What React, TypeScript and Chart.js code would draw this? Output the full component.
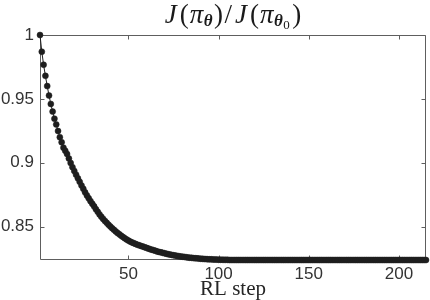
import { useEffect, useRef } from "react";
import { Chart, registerables } from "chart.js";

Chart.register(...registerables);

// Ratio J(pi_theta)/J(pi_theta0) for RL steps 1..215
const ratioValues: number[] = [
  1.0, 0.9869, 0.9767, 0.968, 0.96, 0.9526, 0.946, 0.94, 0.9345, 0.93,
  0.9248, 0.92, 0.916, 0.9118, 0.9093, 0.9068, 0.9033, 0.8998, 0.8965, 0.8935,
  0.8906, 0.8878, 0.885, 0.8822, 0.8795, 0.8768, 0.8744, 0.8721, 0.8699, 0.8678,
  0.8658, 0.8636, 0.8615, 0.8595, 0.8577, 0.856, 0.8544, 0.8529, 0.8514, 0.85,
  0.8487, 0.8474, 0.8462, 0.845, 0.8439, 0.8428, 0.8418, 0.8408, 0.8399, 0.839,
  0.8382, 0.8376, 0.837, 0.8364, 0.8358, 0.8353, 0.8348, 0.8343, 0.8338, 0.8333,
  0.8328, 0.8323, 0.8319, 0.8314, 0.831, 0.8305, 0.8301, 0.8298, 0.8294, 0.8291,
  0.8287, 0.8284, 0.8281, 0.8278, 0.8275, 0.8273, 0.827, 0.8268, 0.8265, 0.8264,
  0.8262, 0.826, 0.8258, 0.8256, 0.8255, 0.8253, 0.8252, 0.8251, 0.8249, 0.8248,
  0.8247, 0.8246, 0.8245, 0.8244, 0.8243, 0.8243, 0.8242, 0.8241, 0.8241, 0.824,
  0.824, 0.824, 0.8239, 0.8239, 0.8239, 0.8238, 0.8238, 0.8238, 0.8238, 0.8238,
  0.8238, 0.8238, 0.8238, 0.8238, 0.8238, 0.8238, 0.8238, 0.8238, 0.8238, 0.8238,
  0.8238, 0.8238, 0.8238, 0.8238, 0.8238, 0.8238, 0.8238, 0.8238, 0.8238, 0.8238,
  0.8238, 0.8238, 0.8238, 0.8238, 0.8238, 0.8238, 0.8238, 0.8238, 0.8238, 0.8238,
  0.8238, 0.8238, 0.8238, 0.8238, 0.8238, 0.8238, 0.8238, 0.8238, 0.8238, 0.8238,
  0.8238, 0.8238, 0.8238, 0.8238, 0.8238, 0.8238, 0.8238, 0.8238, 0.8238, 0.8238,
  0.8238, 0.8238, 0.8238, 0.8238, 0.8238, 0.8238, 0.8238, 0.8238, 0.8238, 0.8238,
  0.8238, 0.8238, 0.8238, 0.8238, 0.8238, 0.8238, 0.8238, 0.8238, 0.8238, 0.8238,
  0.8238, 0.8238, 0.8238, 0.8238, 0.8238, 0.8238, 0.8238, 0.8238, 0.8238, 0.8238,
  0.8238, 0.8238, 0.8238, 0.8238, 0.8238, 0.8238, 0.8238, 0.8238, 0.8238, 0.8238,
  0.8238, 0.8238, 0.8238, 0.8238, 0.8238, 0.8238, 0.8238, 0.8238, 0.8238, 0.8238,
  0.8238, 0.8238, 0.8238, 0.8238, 0.8238,
];
const firstStep = 1;
const xMin = 1;
const xMax = 215;
const yMin = 0.8238;
const yMax = 1;
const xTicks = [50, 100, 150, 200];
const yTicks = [0.85, 0.9, 0.95, 1];
const xAxisTitle = "RL step";

const SERIF = "'Liberation Serif', 'Times New Roman', serif";
const SANS = "'Liberation Sans', Arial, sans-serif";

const framePlugin = {
  id: "matlabFrame",
  beforeDatasetsDraw(chart: any) {
    const { ctx, chartArea: a, scales } = chart;
    const L = Math.floor(a.left) + 0.5;
    const R = Math.round(a.right) - 0.5;
    const T = Math.floor(a.top) + 0.5;
    const B = Math.round(a.bottom) - 0.5;
    ctx.save();
    ctx.strokeStyle = "#5e5e5e";
    ctx.lineWidth = 1;
    ctx.beginPath();
    ctx.rect(L, T, R - L, B - T);
    const tl = 4;
    for (const v of xTicks) {
      const x = Math.round(scales.x.getPixelForValue(v)) + 0.5;
      ctx.moveTo(x, B);
      ctx.lineTo(x, B - tl);
      ctx.moveTo(x, T);
      ctx.lineTo(x, T + tl);
    }
    for (const v of yTicks) {
      const y = Math.round(scales.y.getPixelForValue(v)) + 0.5;
      ctx.moveTo(L, y);
      ctx.lineTo(L + tl, y);
      ctx.moveTo(R, y);
      ctx.lineTo(R - tl, y);
    }
    ctx.stroke();
    ctx.restore();
  },
};

const titlePlugin = {
  id: "mathTitle",
  afterDraw(chart: any) {
    const { ctx, chartArea: a } = chart;
    // [text, font, baseline shift, space after]
    const pieces: [string, string, number, number][] = [
      ["J", `italic 27px ${SERIF}`, 0, 3],
      ["(", `27px ${SERIF}`, 0, 1],
      ["\u03C0", `italic 27px ${SERIF}`, 0, 0.5],
      ["\u03B8", `italic bold 17px ${SERIF}`, 3, 1.5],
      [")", `27px ${SERIF}`, 0, 1.5],
      ["/", `27px ${SERIF}`, 0, 3],
      ["J", `italic 27px ${SERIF}`, 0, 3],
      ["(", `27px ${SERIF}`, 0, 1],
      ["\u03C0", `italic 27px ${SERIF}`, 0, 0.5],
      ["\u03B8", `italic bold 17px ${SERIF}`, 3, 0.5],
      ["0", `13px ${SERIF}`, 6, 2.5],
      [")", `27px ${SERIF}`, 0, 0],
    ];
    ctx.save();
    ctx.fillStyle = "#1a1a1a";
    ctx.textBaseline = "alphabetic";
    ctx.textAlign = "left";
    let total = 0;
    const widths = pieces.map(([t, f, , sp]) => {
      ctx.font = f;
      const w = ctx.measureText(t).width;
      total += w + sp;
      return w;
    });
    let x = (a.left + a.right) / 2 - total / 2;
    const base = 23;
    pieces.forEach(([t, f, dy, sp], i) => {
      ctx.font = f;
      ctx.fillText(t, x, base + dy);
      x += widths[i] + sp;
    });
    ctx.restore();
  },
};

export default function App() {
  const canvasRef = useRef<HTMLCanvasElement | null>(null);

  useEffect(() => {
    const canvas = canvasRef.current;
    if (!canvas) return;
    const points = ratioValues.map((v, i) => ({ x: firstStep + i, y: v }));
    const chart = new Chart(canvas, {
      type: "line",
      data: {
        datasets: [
          {
            data: points,
            borderColor: "#1e1e1e",
            borderWidth: 1,
            pointRadius: 3,
            pointBackgroundColor: "#1e1e1e",
            pointBorderColor: "#1e1e1e",
            pointBorderWidth: 0.5,
            pointHoverRadius: 3,
            tension: 0,
            clip: false as any,
          },
        ],
      },
      options: {
        animation: false,
        responsive: false,
        maintainAspectRatio: false,
        events: [],
        layout: { padding: { top: 35, right: 4, left: 0, bottom: 0 } },
        plugins: {
          legend: { display: false },
          title: { display: false },
          tooltip: { enabled: false },
        },
        scales: {
          x: {
            type: "linear",
            min: xMin,
            max: xMax,
            grid: { display: false, drawTicks: false },
            border: { display: false },
            afterBuildTicks: (s: any) => {
              s.ticks = xTicks.map((value) => ({ value }));
            },
            afterFit: (s: any) => {
              s.height = 40;
            },
            ticks: {
              padding: 4,
              maxRotation: 0,
              autoSkip: false,
              color: "#333333",
              font: { family: SANS, size: 17 },
              callback: (v: any) => String(v),
            },
            title: {
              display: true,
              text: xAxisTitle,
              color: "#262626",
              padding: 0,
              font: { family: SERIF, size: 21, lineHeight: 1 },
            },
          },
          y: {
            type: "linear",
            min: yMin,
            max: yMax,
            grid: { display: false, drawTicks: false },
            border: { display: false },
            afterBuildTicks: (s: any) => {
              s.ticks = yTicks.map((value) => ({ value }));
            },
            afterFit: (s: any) => {
              s.width = 40;
            },
            ticks: {
              padding: 6,
              autoSkip: false,
              color: "#333333",
              font: { family: SANS, size: 17 },
              callback: (v: any) => String(v),
            },
          },
        },
      },
      plugins: [framePlugin, titlePlugin],
    });
    return () => chart.destroy();
  }, []);

  return (
    <div style={{ position: "fixed", left: 0, top: 0, width: 430, height: 300, background: "#ffffff" }}>
      <canvas ref={canvasRef} width={430} height={300} style={{ width: 430, height: 300 }} />
    </div>
  );
}
